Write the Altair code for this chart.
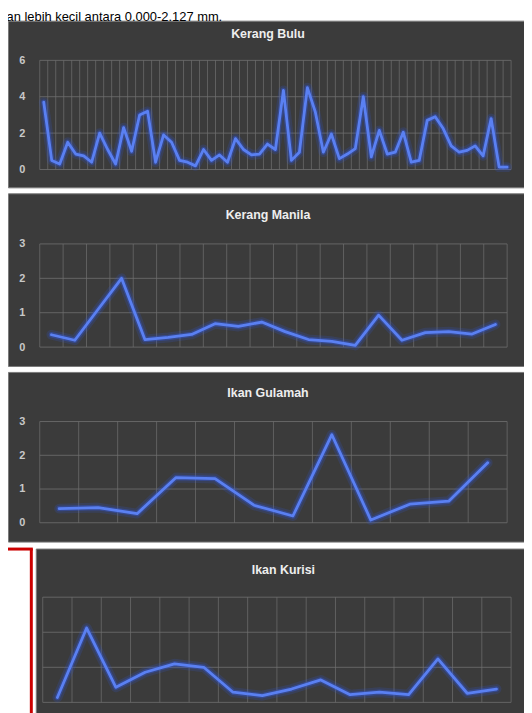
import altair as alt
import pandas as pd

# ---------------- data ----------------
top_text = "an lebih kecil antara 0.000-2.127 mm."
panel_titles = ["Kerang Bulu", "Kerang Manila", "Ikan Gulamah", "Ikan Kurisi"]

kerang_bulu = [3.7, 0.5, 0.3, 1.5, 0.85, 0.75, 0.4, 2.0, 1.1, 0.3,
               2.3, 1.0, 3.0, 3.2, 0.4, 1.9, 1.5, 0.5, 0.4, 0.2,
               1.1, 0.5, 0.8, 0.4, 1.7, 1.1, 0.8, 0.85, 1.4, 1.1,
               4.35, 0.5, 0.95, 4.5, 3.15, 0.95, 1.95, 0.6, 0.85, 1.15,
               4.0, 0.7, 2.15, 0.85, 0.95, 2.05, 0.4, 0.5, 2.7, 2.9,
               2.25, 1.3, 0.95, 1.05, 1.3, 0.75, 2.8, 0.13, 0.13]
kerang_manila = [0.36, 0.2, 1.1, 2.0, 0.22, 0.28, 0.37, 0.68, 0.6, 0.73,
                 0.45, 0.22, 0.17, 0.05, 0.93, 0.2, 0.42, 0.45, 0.38, 0.66]
ikan_gulamah = [0.42, 0.45, 0.27, 1.34, 1.31, 0.52, 0.2, 2.61, 0.08, 0.55,
                0.64, 1.78]
ikan_kurisi = [0.14, 2.12, 0.43, 0.86, 1.1, 1.0, 0.29, 0.19, 0.38, 0.64,
               0.22, 0.29, 0.22, 1.24, 0.26, 0.38]

y_max = [6, 3, 3, 3]
y_step = [2, 1, 1, 1]

# ---------------- styling ----------------
PANEL_BG = "#3b3b3b"
GRID = "#707070"
CORE = "#5a80f2"
GLOW = "#3357dc"
LABEL = "#c8c8c8"
TITLE = "#eeeeee"
FONT = "Liberation Sans"


def panel(title, values, ymax, ystep, w, h, px0, px1, py_top, py_zero, show_labels,
          title_offset=-28):
    n = len(values)
    bw = (px1 - px0) / n
    xdom = [-0.5 - px0 / bw, n - 0.5 + (w - px1) / bw]
    ppu = (py_zero - py_top) / ymax
    ydom = [-(h - py_zero) / ppu, ymax + py_top / ppu]
    ticks = list(range(0, ymax + 1, ystep))

    df = pd.DataFrame({"idx": list(range(n)), "value": values})
    hgrid = pd.DataFrame({"level": ticks, "start": [-0.5] * len(ticks),
                          "end": [n - 0.5] * len(ticks)})
    edges = [i - 0.5 for i in range(n + 1)]
    vgrid = pd.DataFrame({"edge": edges, "low": [0] * len(edges),
                          "high": [ymax] * len(edges)})

    xs = alt.Scale(domain=xdom, nice=False, zero=False)
    ys = alt.Scale(domain=ydom, nice=False, zero=False)
    if show_labels:
        yaxis = alt.Axis(values=ticks, grid=False, domain=False, ticks=False,
                         offset=-17, labelPadding=0, labelColor=LABEL,
                         labelFontSize=11, labelFontWeight="bold", labelFont=FONT,
                         title=None)
    else:
        yaxis = None

    hg = alt.Chart(hgrid).mark_rule(color=GRID, strokeWidth=1, opacity=0.8).encode(
        x=alt.X("start:Q", scale=xs, axis=None), x2="end:Q",
        y=alt.Y("level:Q", scale=ys, axis=yaxis))
    vg = alt.Chart(vgrid).mark_rule(color=GRID, strokeWidth=1, opacity=0.7).encode(
        x=alt.X("edge:Q", scale=xs, axis=None),
        y=alt.Y("low:Q", scale=ys, axis=yaxis), y2="high:Q")
    halo = alt.Chart(df).mark_line(color=GLOW, strokeWidth=10, opacity=0.18,
                                   strokeJoin="round", strokeCap="round",
                                   clip=True).encode(
        x=alt.X("idx:Q", scale=xs, axis=None),
        y=alt.Y("value:Q", scale=ys, axis=yaxis))
    mid = alt.Chart(df).mark_line(color=GLOW, strokeWidth=5.5, opacity=0.4,
                                  strokeJoin="round", strokeCap="round",
                                  clip=True).encode(
        x=alt.X("idx:Q", scale=xs, axis=None),
        y=alt.Y("value:Q", scale=ys, axis=yaxis))
    core = alt.Chart(df).mark_line(color=CORE, strokeWidth=2.8,
                                   strokeJoin="round", strokeCap="round",
                                   clip=True).encode(
        x=alt.X("idx:Q", scale=xs, axis=None),
        y=alt.Y("value:Q", scale=ys, axis=yaxis))

    return alt.layer(hg, vg, halo, mid, core).properties(
        width=w, height=h,
        view=alt.ViewBackground(fill=PANEL_BG, stroke="#7a7a7a", strokeWidth=1),
        title=alt.TitleParams(text=title, offset=title_offset, color=TITLE,
                              fontSize=12.5, fontWeight="bold", font=FONT,
                              anchor="middle"),
    )


P4_H = 166
p1 = panel(panel_titles[0], kerang_bulu, y_max[0], y_step[0], 524, 168, 32, 507, 40, 150,
           True, title_offset=-20)
p2 = panel(panel_titles[1], kerang_manila, y_max[1], y_step[1], 524, 174, 32, 503, 51, 155, True)
p3 = panel(panel_titles[2], ikan_gulamah, y_max[2], y_step[2], 524, 171, 32, 503, 50, 152, True)
p4 = panel(panel_titles[3], ikan_kurisi, y_max[3], y_step[3], 499, P4_H, 7, 479, 49, 155, False)

# red annotation bracket on the left of the last panel
marker = pd.DataFrame({"k": [0]})
red_v = alt.Chart(marker).mark_rule(color="#cc0000", strokeWidth=3).encode(
    x=alt.value(23.5), y=alt.value(0), y2=alt.value(P4_H))
red_h = alt.Chart(marker).mark_rule(color="#cc0000", strokeWidth=3).encode(
    x=alt.value(0), x2=alt.value(25), y=alt.value(0.5))
spacer = alt.layer(red_v, red_h).properties(
    width=25, height=P4_H, view=alt.ViewBackground(fill="white", strokeWidth=0))

row4 = alt.hconcat(spacer, p4, spacing=0)

chart = alt.vconcat(p1, p2, p3, row4, spacing=4).properties(
    title=alt.TitleParams(text=top_text, fontSize=13, font=FONT, fontWeight="normal",
                          color="black", anchor="start", offset=-4),
    padding={"top": 0, "left": -2, "right": -8, "bottom": 0},
).configure(background="white", font=FONT).configure_view(strokeWidth=0)

chart.save("out.html", embed_options={"renderer": "svg", "actions": False})
